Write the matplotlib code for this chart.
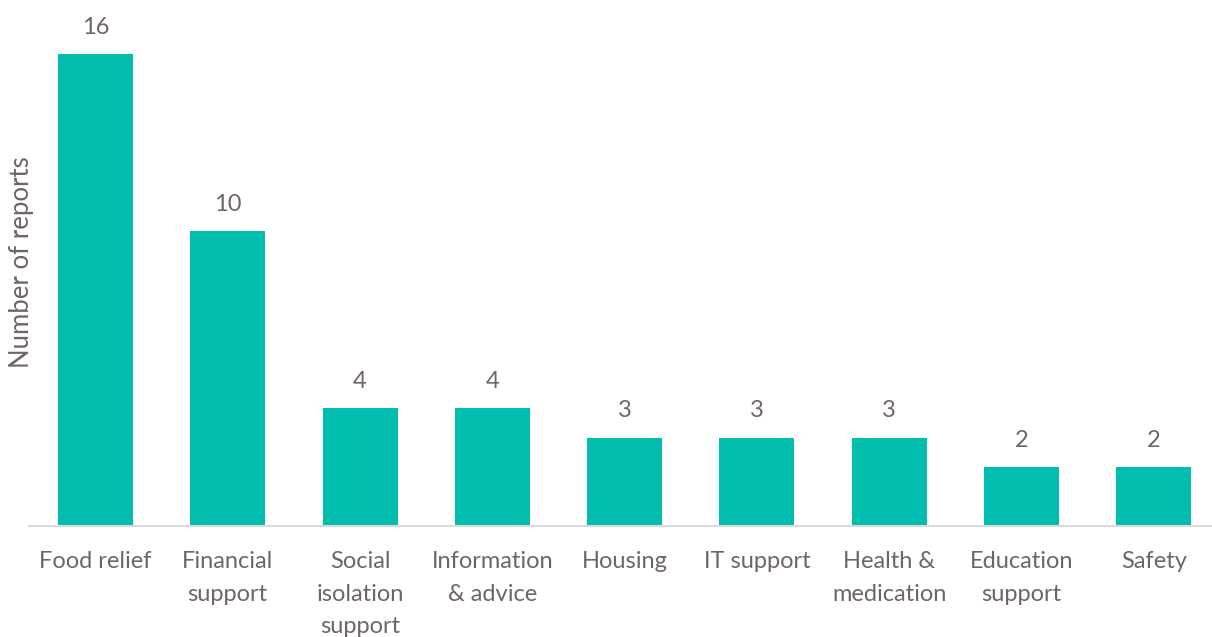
import matplotlib
matplotlib.use('Agg')
import matplotlib.pyplot as plt

categories = ['Food relief', 'Financial\nsupport', 'Social\nisolation\nsupport',
              'Information\n& advice', 'Housing', 'IT support', 'Health &\nmedication',
              'Education\nsupport', 'Safety']
reports = [16, 10, 4, 4, 3, 3, 3, 2, 2]

bar_color = '#00bdad'
text_color = '#6f6567'

plt.rcParams['font.family'] = ['Lato', 'DejaVu Sans']

W, H = 1212, 637
fig = plt.figure(figsize=(W / 100, H / 100), dpi=100)
# axes in pixel coords: left 29.3, right 1220, bottom at y=526 from top
left, right, top, base = 29.3, 1220.0, 0.0, 526.0
ax = fig.add_axes([left / W, (H - base) / H, (right - left) / W, (base - top) / H])

x = range(len(categories))
ax.bar(x, reports, width=0.567, color=bar_color)
ax.set_xlim(-0.5, len(categories) - 0.5)
ax.set_ylim(0, base / 29.5)

for xi, v in zip(x, reports):
    ax.annotate(str(v), (xi, v), xytext=(0, 14.5), textcoords='offset points',
                ha='center', va='baseline', fontsize=17, color=text_color)

ax.set_xticks(list(x))
ax.set_xticklabels(categories, fontsize=17, color=text_color, linespacing=1.69)
ax.tick_params(axis='x', length=0, pad=18)
ax.set_yticks([])

for s in ['top', 'right', 'left']:
    ax.spines[s].set_visible(False)
ax.spines['bottom'].set_color('#d9d9d9')
ax.spines['bottom'].set_linewidth(1.5)

fig.text(22 / W, 1 - 262 / H, 'Number of reports', rotation=90, ha='center', va='center',
         fontsize=18.5, color=text_color)

fig.savefig('out.png', dpi=100)
